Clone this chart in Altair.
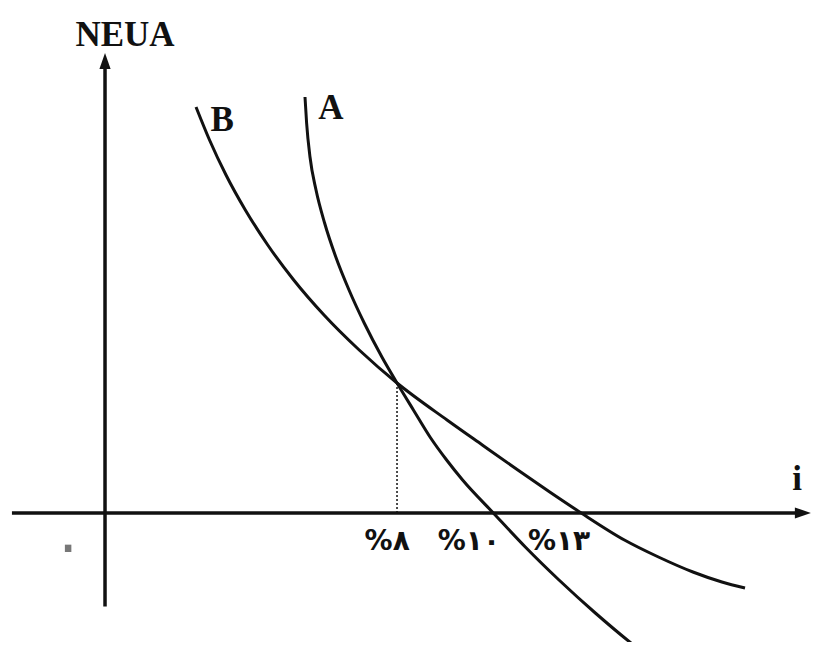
import altair as alt
import pandas as pd

# Curve A (interest rate i, NEUA) (schematic units)
a_i = [5.479, 5.523, 5.616, 5.781, 6.016, 6.323, 6.685, 7.101, 7.586, 8.0,
       8.449, 8.904, 9.359, 9.797, 10.638, 11.515, 12.438, 13.433, 14.548, 15.014]
a_v = [16.0, 15.0, 13.692, 12.423, 11.154, 9.846, 8.577, 7.308, 6.0, 5.0,
       3.962, 2.923, 2.038, 1.269, 0.0, -1.308, -2.577, -3.846, -5.154, -5.654]
# Curve B
b_i = [2.493, 2.863, 3.315, 3.844, 4.458, 5.170, 6.0, 6.964, 8.0,
       9.370, 10.337, 11.310, 12.184, 13.047, 14.230, 15.162, 16.107, 16.901, 17.534]
b_v = [15.615, 14.346, 13.0, 11.654, 10.308, 8.962, 7.615, 6.269, 5.0,
       3.577, 2.615, 1.654, 0.808, 0.0, -1.038, -1.692, -2.269, -2.654, -2.885]

# tick labels on the i axis
tick_text = ["%۸", "%۱۰", "%۱۳"]
tick_x = [7.73, 9.97, 12.44]
tick_y = [-1.12, -1.12, -1.12]

# intersection (dotted guide)
cross_i = 8.0
cross_v = 5.0

# axis extents
x_axis = {"x": -2.55, "x2": 19.12, "y": 0.0}
y_axis = {"x": 0.0, "y": -3.6, "y2": 17.385}

# latin labels
lat_text = ["NEUA", "A", "B", "i"]
lat_x = [0.548, 6.19, 3.21, 18.96]
lat_y = [18.38, 15.58, 15.12, 1.31]

origin_text = ["۰"]
origin_x = [-1.01]
origin_y = [-1.31]

XD = [-2.658, 19.342]
YD = [-4.9615, 19.423]
xs = alt.Scale(domain=XD, nice=False, zero=False)
ys = alt.Scale(domain=YD, nice=False, zero=False)
INK = "#111111"

curves = pd.DataFrame(
    {"i": a_i + b_i, "v": a_v + b_v, "c": ["A"] * len(a_i) + ["B"] * len(b_i)}
)

lines = alt.Chart(curves).mark_line(
    interpolate="monotone", color=INK, strokeWidth=3, clip=True
).encode(
    x=alt.X("i:Q", scale=xs, axis=None),
    y=alt.Y("v:Q", scale=ys, axis=None),
    detail="c:N",
    order="i:Q",
)

hax = alt.Chart(pd.DataFrame([x_axis])).mark_rule(color=INK, strokeWidth=3.5).encode(
    x=alt.X("x:Q", scale=xs, axis=None), x2="x2:Q", y=alt.Y("y:Q", scale=ys, axis=None)
)
vax = alt.Chart(pd.DataFrame([y_axis])).mark_rule(color=INK, strokeWidth=3.5).encode(
    x=alt.X("x:Q", scale=xs, axis=None), y=alt.Y("y:Q", scale=ys, axis=None), y2="y2:Q"
)

up_arrow = alt.Chart(pd.DataFrame({"x": [y_axis["x"]], "y": [y_axis["y2"]]})).mark_point(
    shape="M0,-1L0.7,1L-0.7,1Z", size=256, filled=True, color=INK, opacity=1
).encode(x=alt.X("x:Q", scale=xs, axis=None), y=alt.Y("y:Q", scale=ys, axis=None))

right_arrow = alt.Chart(pd.DataFrame({"x": [x_axis["x2"]], "y": [x_axis["y"]]})).mark_point(
    shape="M1,0L-1,-0.7L-1,0.7Z", size=256, filled=True, color=INK, opacity=1
).encode(x=alt.X("x:Q", scale=xs, axis=None), y=alt.Y("y:Q", scale=ys, axis=None))

guide = alt.Chart(pd.DataFrame({"x": [cross_i], "y": [0.0], "y2": [cross_v]})).mark_rule(
    color=INK, strokeWidth=1.5, strokeDash=[2, 2]
).encode(x=alt.X("x:Q", scale=xs, axis=None), y=alt.Y("y:Q", scale=ys, axis=None), y2="y2:Q")

lat = alt.Chart(pd.DataFrame({"x": lat_x, "y": lat_y, "t": lat_text})).mark_text(
    font="Liberation Serif", fontWeight="bold", fontSize=35, color=INK,
    align="center", baseline="middle"
).encode(x=alt.X("x:Q", scale=xs, axis=None), y=alt.Y("y:Q", scale=ys, axis=None), text="t:N")

ticks = alt.Chart(pd.DataFrame({"x": tick_x, "y": tick_y, "t": tick_text})).mark_text(
    font="DejaVu Sans", fontWeight="bold", fontSize=28, color=INK,
    align="center", baseline="middle"
).encode(x=alt.X("x:Q", scale=xs, axis=None), y=alt.Y("y:Q", scale=ys, axis=None), text="t:N")

origin = alt.Chart(pd.DataFrame({"x": origin_x, "y": origin_y, "t": origin_text})).mark_text(
    font="DejaVu Sans", fontSize=60, color="#777777", align="center", baseline="middle"
).encode(x=alt.X("x:Q", scale=xs, axis=None), y=alt.Y("y:Q", scale=ys, axis=None), text="t:N")

chart = alt.layer(
    hax, vax, guide, lines, up_arrow, right_arrow, lat, ticks, origin
).properties(
    width=803, height=634, autosize=alt.AutoSizeParams(type="none"), padding=0,
    background="white"
).configure_view(stroke=None)

chart.save("out.html", embed_options={"renderer": "svg", "actions": False})
